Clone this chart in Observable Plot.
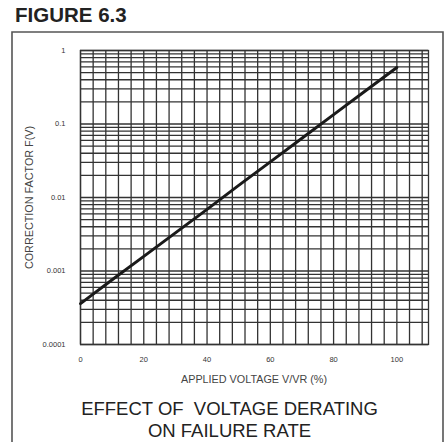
<!DOCTYPE html>
<html>
<head>
<meta charset="utf-8">
<script src="https://cdn.jsdelivr.net/npm/d3@7"></script>
<script src="https://cdn.jsdelivr.net/npm/@observablehq/plot@0.6"></script>
<style>
  html, body { margin: 0; padding: 0; background: #fff; }
  #chart { position: relative; width: 446px; height: 442px; overflow: hidden; }
  #chart svg { display: block; }
</style>
</head>
<body>
<div id="chart"></div>
<script>
// Applied voltage V/VR (%) and correction factor F(V)
const voltagePct = [0, 10, 20, 30, 40, 50, 60, 70, 80, 90, 100];
const correction = [0.00036, 0.00076, 0.00158, 0.0033, 0.0069, 0.0146, 0.0305, 0.064, 0.134, 0.281, 0.587];

// Axis ticks and labels
const xTicks = [0, 20, 40, 60, 80, 100];
const xGridStep = 4;
const xMax = 110;
const yTicks = [0.0001, 0.001, 0.01, 0.1, 1];
const yTickLabels = ["0.0001", "0.001", "0.01", "0.1", "1"];

const figureLabel = "FIGURE 6.3";
const yLabel = "CORRECTION FACTOR F(V)";
const xLabel = "APPLIED VOLTAGE V/VR (%)";
const titleLines = ["EFFECT OF  VOLTAGE DERATING", "ON FAILURE RATE"];

const data = voltagePct.map((v, i) => ({v, f: correction[i]}));
const xGrid = d3.range(0, xMax, xGridStep);
const yGrid = d3.scaleLog().domain([yTicks[0], yTicks[yTicks.length - 1]]).ticks();

const gridStyle = {stroke: "#333", strokeOpacity: 1, strokeWidth: 1.3};

const chart = Plot.plot({
  width: 446,
  height: 442,
  marginLeft: 80,
  marginRight: 18,
  marginTop: 50,
  marginBottom: 98,
  style: {fontFamily: "'Liberation Sans', Arial, sans-serif", background: "#fff"},
  x: {domain: [0, xMax]},
  y: {type: "log", domain: [yTicks[0], yTicks[yTicks.length - 1]]},
  marks: [
    Plot.gridX(xGrid, gridStyle),
    Plot.gridY(yGrid, gridStyle),
    Plot.frame({stroke: "#333", strokeWidth: 1.3}),
    Plot.axisX(xTicks, {tickSize: 0, tickPadding: 12, fontSize: 7.5, fill: "#333", label: null}),
    Plot.axisY(yTicks, {tickSize: 0, tickPadding: 15, fontSize: 7.5, fill: "#333", label: null,
      tickFormat: d => yTickLabels[yTicks.indexOf(d)]}),
    Plot.line(data, {x: "v", y: "f", stroke: "#1a1a1a", strokeWidth: 3})
  ]
});

document.getElementById("chart").appendChild(chart);

const svg = d3.select(chart);
svg.append("path")
  .attr("d", "M12,442V32H443V442")
  .attr("fill", "none")
  .attr("stroke", "#555")
  .attr("stroke-width", 1.6);

svg.append("text")
  .attr("x", 15).attr("y", 21.7)
  .attr("text-anchor", "start")
  .attr("font-size", 20.5).attr("font-weight", "bold")
  .attr("fill", "#222")
  .attr("font-family", "'Liberation Sans', Arial, sans-serif")
  .text(figureLabel);

svg.append("text")
  .attr("transform", "translate(33.3,197.5) rotate(-90)")
  .attr("text-anchor", "middle")
  .attr("font-size", 10.8)
  .attr("fill", "#444")
  .attr("font-family", "'Liberation Sans', Arial, sans-serif")
  .text(yLabel);

svg.append("text")
  .attr("x", 254).attr("y", 383)
  .attr("text-anchor", "middle")
  .attr("font-size", 10.8)
  .attr("fill", "#444")
  .attr("font-family", "'Liberation Sans', Arial, sans-serif")
  .text(xLabel);

titleLines.forEach((t, i) => {
  svg.append("text")
    .attr("x", 229.5).attr("y", 415 + i * 22)
    .attr("text-anchor", "middle")
    .attr("font-size", 18.5)
    .attr("fill", "#222")
    .attr("font-family", "'Liberation Sans', Arial, sans-serif")
    .style("white-space", "pre")
    .text(t);
});
</script>
</body>
</html>
